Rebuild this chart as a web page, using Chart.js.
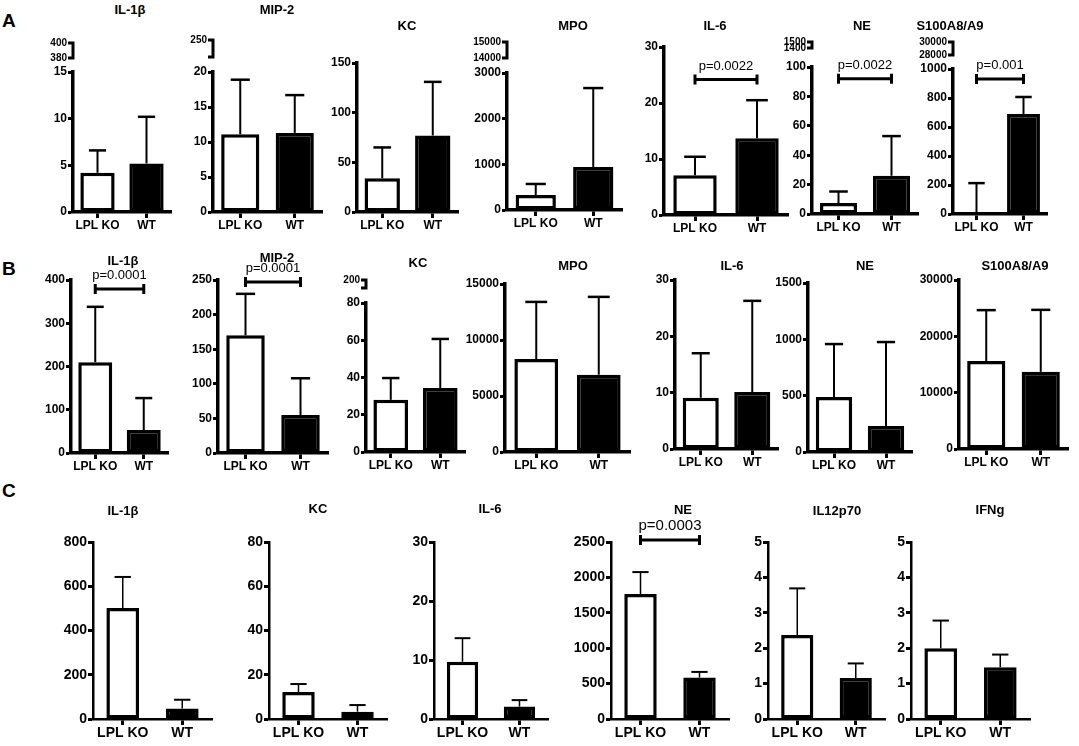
<!DOCTYPE html>
<html>
<head>
<meta charset="utf-8">
<script src="https://cdn.jsdelivr.net/npm/chart.js@4.4.0/dist/chart.umd.min.js"></script>
<style>
body { margin: 0; background: #fff; width: 1079px; height: 746px; position: relative; overflow: hidden; font-family: 'Liberation Sans', Arial, sans-serif; }
canvas { position: absolute; }
.ttl { position: absolute; font-weight: bold; font-size: 13px; transform: translate(-50%, -50%); white-space: nowrap; color: #000; }
.lbl { position: absolute; font-weight: bold; font-size: 19px; color: #000; }
</style>
</head>
<body>
<div class="lbl" style="left:2px;top:10px">A</div>
<div class="lbl" style="left:2px;top:258px">B</div>
<div class="lbl" style="left:2px;top:480px">C</div>
<script>
const groups = ['LPL KO', 'WT'];

// panel A
const titlesA = ['IL-1β', 'MIP-2', 'KC', 'MPO', 'IL-6', 'NE', 'S100A8/A9'];
const koMeanA = [4.2, 11.1, 34, 330, 7.1, 7.5, 8];
const koErrA = [2.4, 7.8, 31, 240, 3.3, 7.8, 205];
const wtMeanA = [5.2, 11.3, 77, 940, 13.7, 26, 690];
const wtErrA = [5.0, 5.4, 54, 1730, 6.8, 27, 117];
const yMaxA = [15, 20, 150, 3000, 30, 100, 1000];
const yStepA = [5, 5, 50, 1000, 10, 20, 200];
const breakTicksA = [['400', '380'], ['250', ''], null, ['15000', '14000'], null, ['1500', '1400'], ['30000', '28000']];
const pTextA = [null, null, null, null, 'p=0.0022', 'p=0.0022', 'p=0.001'];
const pLevelA = [null, null, null, null, 24.2, 92, 931];

// panel B
const titlesB = ['IL-1β', 'MIP-2', 'KC', 'MPO', 'IL-6', 'NE', 'S100A8/A9'];
const koMeanB = [210, 170, 28, 8300, 9.1, 488, 15600];
const koErrB = [128, 60, 11.7, 5100, 7.9, 470, 9050];
const wtMeanB = [53, 55, 34.4, 6900, 10.1, 231, 13700];
const wtErrB = [74, 53, 26.3, 6950, 16.2, 745, 11000];
const yMaxB = [400, 250, 80, 15000, 30, 1500, 30000];
const yStepB = [100, 50, 20, 5000, 10, 500, 10000];
const breakTicksB = [null, null, ['200', ''], null, null, null, null];
const pTextB = ['p=0.0001', 'p=0.0001', null, null, null, null, null];
const pLevelB = [379, 247, null, null, null, null, null];

// panel C
const titlesC = ['IL-1β', 'KC', 'IL-6', 'NE', 'IL12p70', 'IFNg'];
const koMeanC = [502, 12.2, 9.7, 1765, 2.37, 2.0];
const koErrC = [140, 3.6, 4.0, 310, 1.32, 0.78];
const wtMeanC = [47, 3.3, 2.1, 585, 1.16, 1.46];
const wtErrC = [40, 3.0, 1.1, 80, 0.41, 0.36];
const yMaxC = [800, 80, 30, 2500, 5, 5];
const yStepC = [200, 20, 10, 500, 1, 1];
const pTextC = [null, null, null, 'p=0.0003', null, null];
const pLevelC = [null, null, null, 2530, null, null];

// layout: [axis x, top tick y, zero y, axis end x] in page pixels
const boxA = [[73, 72, 212, 171], [213, 72, 212, 322], [357, 63, 212, 458], [507, 73, 210, 622], [664, 47, 215, 788], [812, 67, 214, 918], [953, 69, 214, 1047]];
const boxB = [[71, 280, 453, 168], [218, 280, 453, 328], [366, 303, 452, 465], [505, 284, 452, 630], [675, 280, 449, 778], [808, 283, 452, 912], [959, 280, 449, 1068]];
const boxC = [[93, 542, 719, 212], [269, 542, 719, 387], [434, 542, 719, 548], [611, 542, 719, 729], [768, 542, 719, 885], [911, 542, 719, 1030]];
const titlePosA = [[130, 9], [277, 9], [407, 25], [573, 25], [715, 25], [862, 25], [950, 25]];
const titlePosB = [[123, 260], [277, 257], [418, 262], [573, 265], [732, 265], [865, 265], [1015, 265]];
const titlePosC = [[123, 510], [318, 508], [490, 508], [683, 509], [837, 510], [990, 509]];
// break segment offsets above the main axis top: [upper, lower]
const breakPosA = [[29, 14], [32, 15], null, [31, 15], null, [25, 19], [27, 14]];
const breakPosB = [null, null, [23, 15], null, null, null, null];

const FAMILY = "'Liberation Sans', Arial, sans-serif";

function makePanel(p) {
  const YW = 52, PT = 48, XH = 26, PR = 6;
  const [ax, top, zero, right] = p.box;
  const w = right - ax + YW + PR;
  const h = zero - top + PT + XH;
  const c = document.createElement('canvas');
  c.width = w; c.height = h;
  c.style.left = (ax - YW) + 'px';
  c.style.top = (top - PT) + 'px';
  c.style.width = w + 'px';
  c.style.height = h + 'px';
  document.body.appendChild(c);

  const t = document.createElement('div');
  t.className = 'ttl';
  t.textContent = p.title;
  t.style.left = p.tpos[0] + 'px';
  t.style.top = p.tpos[1] + 'px';
  document.body.appendChild(t);

  const vals = [p.ko, p.wt];
  const errs = [p.koErr, p.wtErr];

  const extras = {
    id: 'extras',
    afterDatasetsDraw(chart) {
      const ctx = chart.ctx;
      const ys = chart.scales.y;
      const bars = chart.getDatasetMeta(0).data;
      ctx.save();
      ctx.strokeStyle = '#000';
      ctx.fillStyle = '#000';
      // error bars
      bars.forEach((bar, i) => {
        const yt = ys.getPixelForValue(vals[i] + errs[i]);
        const cap = bar.width * 0.5;
        ctx.lineWidth = p.errW;
        ctx.beginPath();
        ctx.moveTo(bar.x, bar.y);
        ctx.lineTo(bar.x, yt);
        ctx.stroke();
        ctx.lineWidth = p.errW + 0.5;
        ctx.beginPath();
        ctx.moveTo(bar.x - cap / 2, yt);
        ctx.lineTo(bar.x + cap / 2, yt);
        ctx.stroke();
      });
      // significance bracket
      if (p.pText) {
        const y = ys.getPixelForValue(p.pLevel);
        const x0 = bars[0].x, x1 = bars[1].x;
        ctx.lineWidth = 3;
        ctx.beginPath();
        ctx.moveTo(x0, y); ctx.lineTo(x1, y);
        ctx.moveTo(x0, y - 5); ctx.lineTo(x0, y + 5);
        ctx.moveTo(x1, y - 5); ctx.lineTo(x1, y + 5);
        ctx.stroke();
        ctx.font = p.pFont;
        ctx.textAlign = 'center';
        ctx.textBaseline = 'bottom';
        ctx.fillText(p.pText, (x0 + x1) / 2, y - 7);
      }
      // broken axis segment
      if (p.brk) {
        const x = chart.chartArea.left;
        const y1 = chart.chartArea.top - p.brkPos[0];
        const y2 = chart.chartArea.top - p.brkPos[1];
        ctx.lineWidth = 3;
        ctx.beginPath();
        ctx.moveTo(x - 5, y1); ctx.lineTo(x + 1.5, y1);
        ctx.moveTo(x, y1); ctx.lineTo(x, y2);
        ctx.moveTo(x - 5, y2); ctx.lineTo(x + 1.5, y2);
        ctx.stroke();
        ctx.font = 'bold 10px ' + FAMILY;
        ctx.textAlign = 'right';
        ctx.textBaseline = 'middle';
        ctx.fillText(p.brk[0], x - 6, y1);
        if (p.brk[1]) ctx.fillText(p.brk[1], x - 6, y2);
      }
      ctx.restore();
    }
  };

  new Chart(c, {
    type: 'bar',
    data: {
      labels: groups,
      datasets: [{
        data: vals,
        backgroundColor: ['#ffffff', '#000000'],
        borderColor: '#000',
        borderWidth: p.barBorder,
        borderSkipped: false,
        barPercentage: p.barPct,
        categoryPercentage: 1
      }]
    },
    options: {
      responsive: false,
      animation: false,
      events: [],
      layout: { padding: { top: PT, right: PR, left: 0, bottom: 0 } },
      plugins: { legend: { display: false }, tooltip: { enabled: false } },
      scales: {
        x: {
          grid: { display: true, drawOnChartArea: false, offset: false, tickLength: 6, tickColor: '#000', tickWidth: 3 },
          border: { color: '#000', width: p.axisW },
          ticks: { color: '#000', padding: 0, maxRotation: 0, minRotation: 0, autoSkip: false, font: { family: FAMILY, size: p.xFont, weight: 'bold' } },
          afterFit(s) { s.height = XH; }
        },
        y: {
          min: 0,
          max: p.max,
          grid: { display: true, drawOnChartArea: false, tickLength: 5, tickColor: '#000', tickWidth: 3 },
          border: { color: '#000', width: p.axisW },
          ticks: { color: '#000', stepSize: p.step, padding: 1, font: { family: FAMILY, size: p.yFont, weight: 'bold' }, callback: v => String(v) },
          afterFit(s) { s.width = YW; }
        }
      }
    },
    plugins: [extras]
  });
}

titlesA.forEach((title, i) => makePanel({
  title, tpos: titlePosA[i], box: boxA[i],
  ko: koMeanA[i], wt: wtMeanA[i], koErr: koErrA[i], wtErr: wtErrA[i],
  max: yMaxA[i], step: yStepA[i],
  brk: breakTicksA[i], brkPos: breakPosA[i],
  pText: pTextA[i], pLevel: pLevelA[i], pFont: '13px ' + FAMILY,
  xFont: 12, yFont: 12, axisW: 3.5, barBorder: 3.5, errW: 2, barPct: 0.7
}));

titlesB.forEach((title, i) => makePanel({
  title, tpos: titlePosB[i], box: boxB[i],
  ko: koMeanB[i], wt: wtMeanB[i], koErr: koErrB[i], wtErr: wtErrB[i],
  max: yMaxB[i], step: yStepB[i],
  brk: breakTicksB[i], brkPos: breakPosB[i],
  pText: pTextB[i], pLevel: pLevelB[i], pFont: '13px ' + FAMILY,
  xFont: 12, yFont: 12, axisW: 3.5, barBorder: 3.5, errW: 2, barPct: 0.7
}));

titlesC.forEach((title, i) => makePanel({
  title, tpos: titlePosC[i], box: boxC[i],
  ko: koMeanC[i], wt: wtMeanC[i], koErr: koErrC[i], wtErr: wtErrC[i],
  max: yMaxC[i], step: yStepC[i],
  brk: null, brkPos: null,
  pText: pTextC[i], pLevel: pLevelC[i], pFont: '15px ' + FAMILY,
  xFont: 14, yFont: 14, axisW: 2.5, barBorder: 3.5, errW: 1.5, barPct: 0.55
}));
</script>
</body>
</html>
